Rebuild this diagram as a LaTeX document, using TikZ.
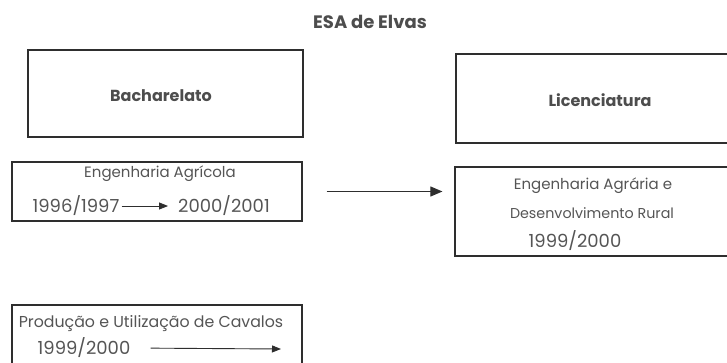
\documentclass[tikz,border=0pt]{standalone}
\usepackage{fontspec}
\setmainfont{Poppins}
\usetikzlibrary{arrows.meta}
\definecolor{inkgray}{HTML}{2E2E2E}
\definecolor{textgray}{HTML}{555555}
\tikzset{
  box/.style={draw=inkgray, line width=1.2pt, inner sep=0pt},
  heading/.style={font=\fontsize{16}{19}\selectfont\bfseries, text=inkgray!85, inner sep=0pt},
  entry/.style={font=\fontsize{15}{18}\selectfont, text=textgray, inner sep=0pt},
  dates/.style={font=\fontsize{18}{21}\selectfont, text=textgray, inner sep=0pt},
  flow/.style={-{Triangle[length=12pt,width=10pt]}, draw=inkgray, line width=0.9pt},
  smallflow/.style={-{Triangle[length=9pt,width=7pt]}, draw=inkgray, line width=0.9pt},
}
\begin{document}
\begin{tikzpicture}[x=1pt,y=-1pt]
\useasboundingbox[fill=white] (0,0) rectangle (727,362);

% Title.
\node[heading, font=\fontsize{18}{21}\selectfont\bfseries] (title) at (370,22) {ESA de Elvas};

% Degree boxes.
\node[box, minimum width=275pt, minimum height=87pt] (bach) at (165.5,93.5) {};
\node[box, minimum width=290pt, minimum height=89pt] (lic) at (601,98.5) {};
\node[heading] (bachlabel) at (161,96) {Bacharelato};
\node[heading] (liclabel) at (600,100) {Licenciatura};

% Course boxes.
\node[box, minimum width=290pt, minimum height=59pt] (agric) at (157,191.5) {};
\node[box, minimum width=290pt, minimum height=89pt] (agrar) at (600,211.5) {};
\node[box, minimum width=290pt, minimum height=70pt] (prod) at (157,340) {};

% Engenharia Agricola.
\node[entry] (agrictitle) at (160,174) {Engenharia Agrícola};
\node[dates] (agricfrom) at (76,206) {1996/1997};
\node[dates] (agricto) at (224,206) {2000/2001};

% Engenharia Agraria.
\node[entry] (agrarA) at (593,186) {Engenharia Agrária e};
\node[entry, font=\fontsize{14.3}{17}\selectfont] (agrarB) at (592,213) {Desenvolvimento Rural};
\node[dates] (agrarC) at (575,241) {1999/2000};

% Producao de Cavalos.
\node[entry, font=\fontsize{15.8}{18}\selectfont] (prodtitle) at (151,324) {Produção e Utilização de Cavalos};
\node[dates] (prodfrom) at (84,348) {1999/2000};
\coordinate (prodend) at (281,349);

% Arrows.
\draw[flow, shorten <=24pt, shorten >=12pt] (agric.east) -- (agric.east -| agrar.west);
\draw[smallflow, shorten <=2pt, shorten >=10pt] (agricfrom) -- (agricto);
\draw[smallflow, shorten <=20pt] (prodfrom.east) -- (prodend);
\end{tikzpicture}
\end{document}
